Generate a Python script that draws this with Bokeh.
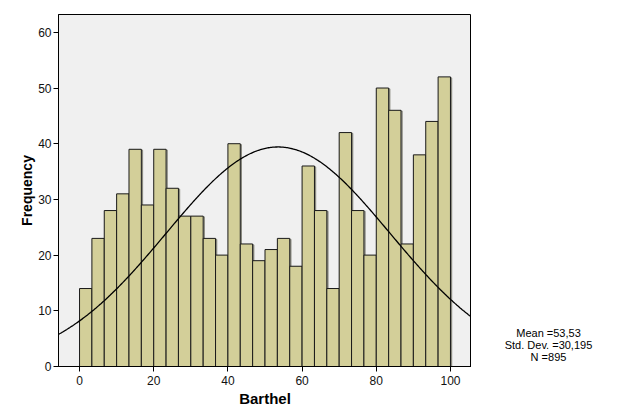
import numpy as np
from bokeh.plotting import figure
from bokeh.layouts import row
from bokeh.models import FixedTicker, Range1d
from bokeh.core.properties import value
from bokeh.embed import file_html
from bokeh.resources import INLINE

counts = [14, 23, 28, 31, 39, 29, 39, 32, 27, 27, 23, 20, 40, 22, 19,
          21, 23, 18, 36, 28, 14, 42, 28, 20, 50, 46, 22, 38, 44, 52]
bin_start = 0.0
bin_end = 100.0
mean = 53.53
sd = 30.195
n = 895
x_ticks = [0, 20, 40, 60, 80, 100]
y_ticks = [0, 10, 20, 30, 40, 50, 60]
stats_lines = ["Mean =53,53", "Std. Dev. =30,195", "N =895"]

nb = len(counts)
w = (bin_end - bin_start) / nb
lefts = [bin_start + i * w for i in range(nb)]
rights = [l + w for l in lefts]

p = figure(width=471, height=417, output_backend="svg", toolbar_location=None,
           x_range=(-5.67, 105.67), y_range=(0, 63.2),
           min_border_left=58, min_border_right=0, min_border_top=14, min_border_bottom=51)
p.background_fill_color = "#f0f0f0"
p.border_fill_color = "white"
p.outline_line_color = "black"
p.outline_line_width = 1
p.grid.visible = False

# shadow
sx = 0.27
sy = 0.18
p.quad(left=[l + sx for l in lefts], right=[r + sx for r in rights], bottom=0,
       top=[c - sy for c in counts], fill_alpha=0, line_color="#8a8a80", line_width=1.5)
p.quad(left=lefts, right=rights, bottom=0, top=counts, fill_color="#d3cf99",
       line_color="#1a1a1a", line_width=1)

xs = np.linspace(-5.67, 105.67, 400)
ys = n * w * np.exp(-0.5 * ((xs - mean) / sd) ** 2) / (sd * np.sqrt(2 * np.pi))
p.line(xs, ys, line_color="black", line_width=1.3)

for ax in (p.xaxis, p.yaxis):
    ax.axis_line_color = "black"
    ax.major_tick_line_color = "black"
    ax.major_tick_out = 5
    ax.major_tick_in = 0
    ax.minor_tick_line_color = None
    ax.major_label_text_font = "Liberation Sans"
    ax.major_label_text_font_size = "12px"
    ax.major_label_text_color = "#111111"
    ax.axis_label_text_font = "Liberation Sans"
    ax.axis_label_text_font_style = "bold"
    ax.axis_label_text_color = "black"
p.xaxis.axis_label_text_font_size = "15px"
p.yaxis.axis_label_text_font_size = "14px"
p.xaxis.ticker = FixedTicker(ticks=x_ticks)
p.yaxis.ticker = FixedTicker(ticks=y_ticks)
p.xaxis.axis_label = "Barthel"
p.yaxis.axis_label = "Frequency"
p.xaxis.major_label_standoff = 4
p.yaxis.major_label_standoff = 2
p.xaxis.axis_label_standoff = 2
p.yaxis.axis_label_standoff = 0

# side panel for the statistics text
s = figure(frame_width=154, frame_height=417, output_backend="svg", toolbar_location=None,
           x_axis_location=None, y_axis_location=None,
           min_border=0, min_border_left=0, min_border_right=0,
           min_border_top=0, min_border_bottom=0)
s.x_range = Range1d(0, 154)
s.y_range = Range1d(417, 0)
s.title.visible = False
s.grid.visible = False
s.outline_line_color = None
s.background_fill_color = "white"
s.border_fill_color = "white"
s.text(x=[77] * len(stats_lines), y=[318 + i * 12 for i in range(len(stats_lines))],
       text=stats_lines, text_align="center", text_baseline="middle",
       text_font=value("Liberation Sans"), text_font_size="11px", text_color="black")

layout = row(p, s, spacing=0)
open("out.html", "w").write(file_html(layout, INLINE))
